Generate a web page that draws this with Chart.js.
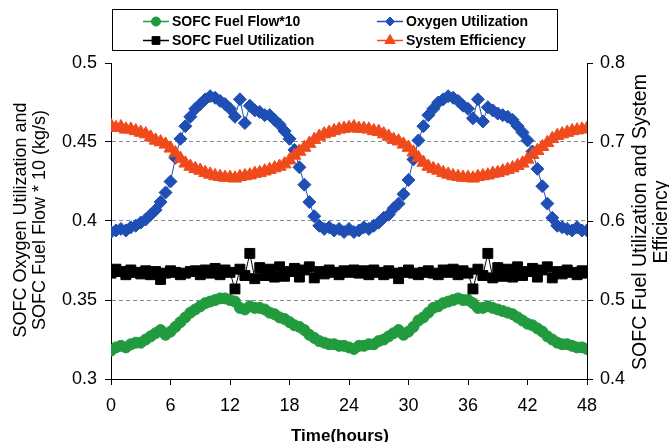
<!DOCTYPE html>
<html>
<head>
<meta charset="utf-8">
<script src="https://cdn.jsdelivr.net/npm/chart.js@4/dist/chart.umd.min.js"></script>
<style>
html,body{margin:0;padding:0;background:#fff;}
canvas{display:block;}
</style>
</head>
<body>
<canvas id="c" width="669" height="442"></canvas>
<script>
// ---- data ----
const hours = [0,0.5,1,1.5,2,2.5,3,3.5,4,4.5,5,5.5,6,6.5,7,7.5,8,8.5,9,9.5,10,10.5,11,11.5,12,12.5,13,13.5,14,14.5,15,15.5,16,16.5,17,17.5,18,18.5,19,19.5,20,20.5,21,21.5,22,22.5,23,23.5,24,24.5,25,25.5,26,26.5,27,27.5,28,28.5,29,29.5,30,30.5,31,31.5,32,32.5,33,33.5,34,34.5,35,35.5,36,36.5,37,37.5,38,38.5,39,39.5,40,40.5,41,41.5,42,42.5,43,43.5,44,44.5,45,45.5,46,46.5,47,47.5,48];

const fuelFlow10 = [0.318,0.320,0.321,0.320,0.322,0.323,0.323,0.325,0.327,0.329,0.331,0.328,0.330,0.333,0.336,0.339,0.342,0.344,0.346,0.348,0.349,0.350,0.351,0.351,0.350,0.349,0.345,0.344,0.346,0.345,0.345,0.344,0.342,0.341,0.339,0.338,0.336,0.334,0.333,0.331,0.328,0.326,0.324,0.323,0.322,0.322,0.321,0.321,
0.320,0.319,0.321,0.321,0.322,0.322,0.324,0.325,0.327,0.329,0.331,0.328,0.330,0.333,0.337,0.339,0.342,0.345,0.346,0.348,0.349,0.350,0.351,0.350,0.350,0.348,0.345,0.345,0.346,0.345,0.344,0.343,0.342,0.341,0.339,0.337,0.335,0.334,0.332,0.330,0.327,0.325,0.323,0.322,0.322,0.321,0.320,0.320,0.319];

const oxygenUtil = [0.393,0.394,0.395,0.394,0.396,0.397,0.399,0.401,0.404,0.407,0.412,0.418,0.425,0.440,0.452,0.460,0.466,0.471,0.474,0.477,0.479,0.478,0.476,0.474,0.471,0.466,0.477,0.462,0.473,0.470,0.469,0.467,0.467,0.464,0.461,0.457,0.452,0.445,0.434,0.423,0.412,0.403,0.397,0.395,0.396,0.394,0.395,0.393,
0.395,0.393,0.394,0.396,0.395,0.397,0.399,0.402,0.404,0.408,0.411,0.417,0.426,0.439,0.451,0.460,0.467,0.471,0.475,0.477,0.479,0.478,0.476,0.473,0.471,0.465,0.477,0.463,0.472,0.470,0.468,0.467,0.466,0.464,0.460,0.456,0.451,0.444,0.433,0.422,0.411,0.402,0.397,0.396,0.395,0.394,0.396,0.394,0.394];

const fuelUtil = [0.534,0.539,0.536,0.532,0.538,0.535,0.533,0.537,0.532,0.536,0.526,0.534,0.537,0.535,0.532,0.534,0.536,0.537,0.532,0.538,0.534,0.540,0.532,0.538,0.535,0.514,0.539,0.531,0.559,0.527,0.541,0.531,0.539,0.529,0.542,0.530,0.536,0.540,0.529,0.538,0.542,0.528,0.536,0.533,0.538,0.535,0.532,0.537,
0.535,0.538,0.534,0.537,0.532,0.538,0.535,0.532,0.537,0.534,0.527,0.535,0.538,0.534,0.532,0.535,0.537,0.534,0.532,0.538,0.535,0.539,0.532,0.537,0.534,0.514,0.539,0.531,0.559,0.528,0.541,0.530,0.539,0.529,0.542,0.531,0.536,0.540,0.529,0.538,0.542,0.528,0.536,0.533,0.538,0.535,0.532,0.537,0.534];

const systemEff = [0.721,0.718,0.719,0.716,0.716,0.714,0.712,0.710,0.706,0.702,0.700,0.697,0.692,0.686,0.679,0.673,0.669,0.666,0.664,0.661,0.659,0.657,0.656,0.655,0.655,0.654,0.656,0.657,0.658,0.660,0.661,0.663,0.665,0.667,0.669,0.672,0.677,0.683,0.688,0.693,0.698,0.703,0.707,0.710,0.712,0.714,0.716,0.717,
0.718,0.719,0.717,0.717,0.716,0.714,0.713,0.710,0.707,0.703,0.701,0.697,0.693,0.687,0.680,0.674,0.669,0.666,0.664,0.661,0.659,0.657,0.656,0.655,0.655,0.654,0.656,0.657,0.658,0.660,0.661,0.663,0.665,0.667,0.670,0.673,0.678,0.684,0.689,0.694,0.699,0.704,0.708,0.710,0.712,0.714,0.715,0.716,0.717];

const seriesNames = ['SOFC Fuel Flow*10','Oxygen Utilization','SOFC Fuel Utilization','System Efficiency'];
const xTicks = [0,6,12,18,24,30,36,42,48];
const leftTicks = [0.3,0.35,0.4,0.45,0.5];
const leftGridTicks = [0.35,0.4,0.45];
const rightTicks = [0.4,0.5,0.6,0.7,0.8];
const xTitle = 'Time(hours)';
const leftTitle = ['SOFC Oxygen Utilization and','SOFC Fuel Flow * 10 (kg/s)'];
const rightTitle = ['SOFC Fuel Utilization and System','Efficiency'];

// ---- styles ----
const GREEN = '#229a3e', BLUE = '#1f4fb4', BLACK = '#000000', RED = '#f04a1c';
const FONT = '"Liberation Sans", Arial, sans-serif';

function pts(arr){ return hours.map((h,i)=>({x:h,y:arr[i]})); }
function ds(label, arr, color, style, r, axis, order){
  return {label, data: pts(arr), yAxisID: axis, order,
    borderColor: color, backgroundColor: color, borderWidth: 1,
    pointStyle: style, pointRadius: r, pointBackgroundColor: color, pointBorderColor: color,
    pointBorderWidth: 1, pointHoverRadius: r, tension: 0, showLine: true};
}

const near = (a,b)=>Math.abs(a-b)<1e-6;

const titlePlugin = {
  id: 'titles',
  afterDraw(chart){
    const ctx = chart.ctx;
    ctx.save();
    ctx.fillStyle = '#000';
    ctx.textAlign = 'center';
    ctx.textBaseline = 'middle';
    ctx.font = '18px ' + FONT;
    const lx = [21, 40];
    leftTitle.forEach((t,i)=>{ ctx.save(); ctx.translate(lx[i], 220); ctx.rotate(-Math.PI/2); ctx.fillText(t,0,0); ctx.restore(); });
    ctx.font = '19.5px ' + FONT;
    const rx = [641, 662];
    rightTitle.forEach((t,i)=>{ ctx.save(); ctx.translate(rx[i], 222); ctx.rotate(-Math.PI/2); ctx.fillText(t,0,0); ctx.restore(); });
    ctx.font = 'bold 17px ' + FONT;
    ctx.fillText(xTitle, 340, 436);
    ctx.restore();
  }
};

const legendPlugin = {
  id: 'boxLegend',
  afterDraw(chart){
    const ctx = chart.ctx;
    ctx.save();
    ctx.strokeStyle = '#000'; ctx.lineWidth = 1;
    ctx.strokeRect(112.5, 9.5, 445, 41);
    const items = [
      {i:0, x:143, y:21}, {i:1, x:377, y:21},
      {i:2, x:143, y:40}, {i:3, x:377, y:40}
    ];
    ctx.font = 'bold 14px ' + FONT;
    ctx.textBaseline = 'middle';
    ctx.textAlign = 'left';
    const legendR = [4.5, 4.5, 5.5, 6];
    items.forEach(it=>{
      const d = chart.data.datasets[it.i];
      ctx.strokeStyle = d.borderColor; ctx.fillStyle = d.borderColor; ctx.lineWidth = 1.5;
      ctx.beginPath(); ctx.moveTo(it.x, it.y+0.5); ctx.lineTo(it.x+26, it.y+0.5); ctx.stroke();
      ctx.lineWidth = 1;
      Chart.helpers.drawPoint(ctx, {pointStyle: d.pointStyle, radius: legendR[it.i], rotation: 0, borderWidth: 1}, it.x+13, it.y+0.5);
      ctx.fillStyle = '#000';
      ctx.fillText(d.label, it.x+29, it.y+1);
    });
    ctx.restore();
  }
};

Chart.defaults.font.family = FONT;
Chart.defaults.font.size = 18;
Chart.defaults.color = '#000';

new Chart(document.getElementById('c'), {
  type: 'line',
  data: {
    datasets: [
      ds(seriesNames[0], fuelFlow10, GREEN, 'circle', 5.5, 'y', 3),
      ds(seriesNames[1], oxygenUtil, BLUE, 'rectRot', 6.5, 'y', 2),
      ds(seriesNames[2], fuelUtil, BLACK, 'rect', 7, 'y2', 1),
      ds(seriesNames[3], systemEff, RED, 'triangle', 7.5, 'y2', 0)
    ]
  },
  options: {
    responsive: false,
    animation: false,
    events: [],
    layout: {padding: {top: 63, left: 0, right: 0, bottom: 0}},
    plugins: {legend: {display: false}, tooltip: {enabled: false}},
    scales: {
      x: {
        type: 'linear', min: 0, max: 48,
        afterFit: s => { s.height = 63; },
        afterBuildTicks: s => { s.ticks = xTicks.map(v=>({value:v})); },
        ticks: {autoSkip: false, maxRotation: 0, padding: 10, callback: v => String(v)},
        grid: {drawOnChartArea: false, tickColor: '#000', tickLength: 6},
        border: {color: '#000', width: 1}
      },
      y: {
        type: 'linear', position: 'left', min: 0.3, max: 0.5,
        afterFit: s => { s.width = 111; },
        afterBuildTicks: s => { s.ticks = leftTicks.map(v=>({value:v})); },
        ticks: {padding: 8, callback: v => String(+v.toFixed(2))},
        grid: {
          color: c => (c.tick && leftGridTicks.some(g=>near(g,c.tick.value))) ? '#8c8c8c' : 'rgba(0,0,0,0)',
          tickColor: '#000', tickLength: 6, lineWidth: 1
        },
        border: {color: '#000', width: 1, dash: [4,3]}
      },
      y2: {
        type: 'linear', position: 'right', min: 0.4, max: 0.8,
        afterFit: s => { s.width = 82; },
        afterBuildTicks: s => { s.ticks = rightTicks.map(v=>({value:v})); },
        ticks: {padding: 7, callback: v => String(+v.toFixed(2))},
        grid: {drawOnChartArea: false, tickColor: '#000', tickLength: 6},
        border: {color: '#000', width: 1}
      }
    }
  },
  plugins: [titlePlugin, legendPlugin]
});
</script>
</body>
</html>
